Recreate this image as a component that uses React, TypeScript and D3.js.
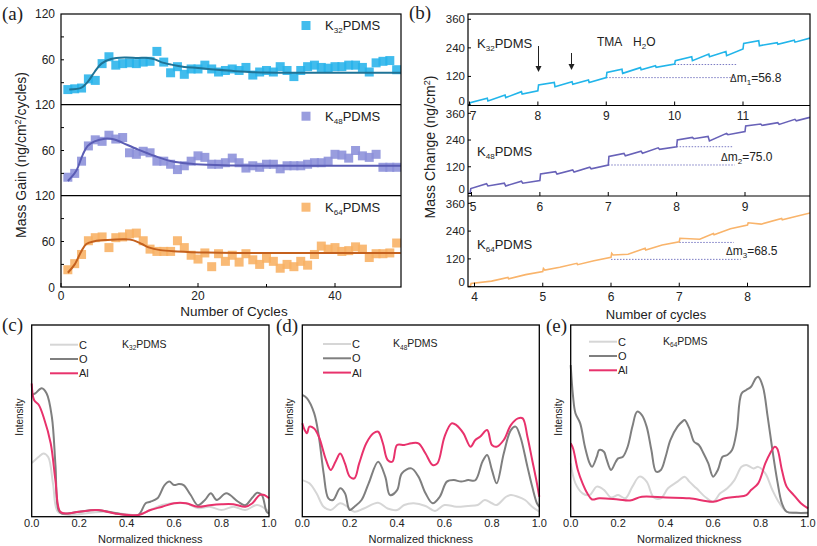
import React from 'react';
import * as d3 from 'd3';

const SANS = '"Liberation Sans", Arial, Helvetica, sans-serif';
const SERIF = '"Liberation Serif", "Times New Roman", serif';

// ---------------- Panel (a) data ----------------
const cycleNumbers = [1,2,3,4,5,6,7,8,9,10,11,12,13,14,15,16,17,18,19,20,21,22,23,24,25,26,27,28,29,30,31,32,33,34,35,36,37,38,39,40,41,42,43,44,45,46,47,48,49];
const gainK32 = [21,22,23,35,33,55,64,53,55,56, 55,57,58,71,57,43,51,41,48,48, 53,48,44,46,48,46,50,40,44,46, 44,51,46,38,46,51,53,50,49,51, 51,53,53,50,44,56,58,59,47];
const gainK48 = [25,30,46,66,74,72,80,75,77,57, 55,59,57,46,46,42,35,40,46,53, 51,42,42,44,50,44,37,40,38,42, 42,36,40,40,40,42,44,44,46,55, 54,50,60,53,51,55,38,38,38];
const gainK64 = [23,31,43,61,65,66,52,65,66,70, 71,61,50,47,47,47,61,52,42,37, 45,27,44,34,42,33,44,36,30,38, 34,25,30,27,34,29,43,54,50,52, 47,48,53,50,39,44,44,45,58];
const fitK32: [number, number][] = [[1.2,21],[3,23.5],[3.9,31],[4.9,44],[5.9,55],[7.3,61],[9.3,63],[11.2,62.5],[12.7,62.5],[13.7,60.5],[14.6,57],[16.1,53.7],[18,50.7],[20,49.3],[22.4,47.2],[24.9,45.5],[28,43.8],[35,43],[49.6,43]];
const fitK48: [number, number][] = [[1,20],[2.2,33],[3.2,55],[3.9,66],[4.9,72],[6.4,75.5],[7.8,74.5],[9,70],[11.2,61.5],[13.7,52.8],[16,46.3],[18.5,43],[21.5,41.3],[26,40.2],[49.6,40]];
const fitK64: [number, number][] = [[1,19],[2,30],[3,47.7],[3.7,56.7],[4.9,60.3],[6.8,62],[9.3,62.8],[10.6,61.5],[11.8,56.7],[12.8,52.3],[14.5,48.7],[17,47],[21.3,45.5],[26,45],[49.6,45]];
const gainTicksX = [0, 20, 40];
const gainMinorX = [10, 30];

// ---------------- Panel (b) data ----------------
const massK32: [number, number][] = [[6.98,0],[7.0,2],[7.01,10],[7.26,28],[7.27,17],[7.52,42],[7.53,31],[7.76,56],[7.77,46],[8.0,60],[8.01,84],[8.24,95],[8.25,77],[8.5,98],[8.51,87],[8.74,105],[8.75,94],[9.0,115],[9.01,137],[9.23,150],[9.24,133],[9.5,157],[9.51,148],[9.72,165],[9.73,158],[10.0,172],[10.01,186],[10.25,203],[10.26,186],[10.5,214],[10.51,203],[10.75,225],[10.76,207],[11.0,235],[11.01,259],[11.23,270],[11.24,249],[11.5,262],[11.51,255],[11.75,272],[11.76,264],[11.98,281]];
const massK48: [number, number][] = [[4.95,0],[4.98,2],[4.99,22],[5.22,44],[5.24,34],[5.48,46],[5.5,34],[5.73,55],[5.75,46],[6.0,58],[6.01,88],[6.23,98],[6.25,87],[6.48,106],[6.5,96],[6.73,118],[6.75,111],[7.0,128],[7.01,166],[7.23,180],[7.25,169],[7.48,190],[7.5,181],[7.73,205],[7.75,198],[8.0,210],[8.01,240],[8.23,252],[8.25,246],[8.46,256],[8.48,236],[8.73,270],[8.75,264],[9.0,278],[9.01,303],[9.23,312],[9.25,306],[9.48,318],[9.5,310],[9.73,333],[9.75,326],[9.95,342]];
const massK64: [number, number][] = [[3.9,0],[3.94,3],[3.95,14],[4.25,24],[4.49,40],[4.5,34],[4.75,52],[5.0,65],[5.01,79],[5.03,72],[5.25,84],[5.5,101],[5.51,95],[5.75,112],[6.0,127],[6.01,144],[6.03,137],[6.25,140],[6.5,166],[6.51,158],[6.75,180],[7.0,194],[7.01,209],[7.3,205],[7.5,230],[7.51,224],[7.75,250],[8.0,266],[8.01,276],[8.2,270],[8.5,295],[8.51,289],[8.75,306],[8.93,319]];
const deltaK32 = [[9.0, 10.88, 115], [10.0, 10.9, 170]];
const deltaK48 = [[7.0, 8.85, 128], [8.0, 8.83, 210]];
const deltaK64 = [[6.0, 7.9, 118], [7.0, 7.8, 191]];
const massTicksY = [0, 120, 240, 360];
const cycleTicksK32 = [7, 8, 9, 10, 11];
const cycleTicksK48 = [5, 6, 7, 8, 9];
const cycleTicksK64 = [4, 5, 6, 7, 8];

// ---------------- Panels (c)-(e) data ----------------
const thickTicks = [0, 0.2, 0.4, 0.6, 0.8, 1.0];
const cK32: [number, number][] = [[0,0.28],[0.03,0.313],[0.05,0.33],[0.07,0.31],[0.09,0.17],[0.11,0.026],[0.15,0.01],[0.3,0.026],[0.45,0.01],[0.5,0.035],[0.55,0.061],[0.6,0.07],[0.65,0.07],[0.7,0.045],[0.75,0.052],[0.8,0.035],[0.85,0.052],[0.9,0.035],[0.95,0.061],[1.0,0.026]];
const oK32: [number, number][] = [[0,0.635],[0.015,0.643],[0.042,0.67],[0.063,0.643],[0.085,0.52],[0.1,0.27],[0.113,0.035],[0.127,0.017],[0.2,0.026],[0.27,0.035],[0.4,0.009],[0.45,0.009],[0.48,0.07],[0.5,0.078],[0.53,0.096],[0.56,0.165],[0.58,0.183],[0.6,0.165],[0.62,0.17],[0.64,0.165],[0.67,0.113],[0.7,0.06],[0.73,0.087],[0.755,0.122],[0.78,0.087],[0.82,0.122],[0.87,0.078],[0.9,0.06],[0.93,0.1],[0.95,0.125],[0.97,0.113],[0.99,0.026],[1.0,0.017]];
const alK32: [number, number][] = [[0,0.695],[0.01,0.609],[0.03,0.583],[0.05,0.52],[0.08,0.383],[0.1,0.19],[0.12,0.026],[0.15,0.017],[0.2,0.026],[0.28,0.035],[0.35,0.017],[0.45,0.009],[0.5,0.035],[0.55,0.052],[0.6,0.07],[0.65,0.07],[0.7,0.052],[0.75,0.06],[0.8,0.065],[0.85,0.065],[0.9,0.052],[0.93,0.07],[0.96,0.113],[0.98,0.113],[1.0,0.096]];

const cK48: [number, number][] = [[0,0.191],[0.03,0.174],[0.06,0.122],[0.09,0.052],[0.12,0.035],[0.16,0.07],[0.19,0.052],[0.22,0.026],[0.26,0.043],[0.32,0.073],[0.36,0.043],[0.4,0.035],[0.43,0.061],[0.47,0.07],[0.52,0.056],[0.56,0.03],[0.6,0.061],[0.65,0.052],[0.7,0.056],[0.74,0.061],[0.77,0.087],[0.8,0.07],[0.82,0.061],[0.86,0.104],[0.88,0.113],[0.91,0.104],[0.94,0.087],[0.97,0.052],[1.0,0.026]];
const oK48: [number, number][] = [[0,0.635],[0.02,0.617],[0.05,0.54],[0.07,0.417],[0.09,0.226],[0.11,0.096],[0.13,0.087],[0.16,0.148],[0.18,0.122],[0.2,0.035],[0.22,0.052],[0.25,0.087],[0.28,0.174],[0.32,0.287],[0.35,0.209],[0.37,0.113],[0.4,0.139],[0.42,0.226],[0.46,0.252],[0.49,0.209],[0.52,0.122],[0.55,0.07],[0.58,0.104],[0.61,0.183],[0.64,0.191],[0.67,0.183],[0.7,0.191],[0.73,0.19],[0.76,0.287],[0.78,0.322],[0.8,0.244],[0.82,0.174],[0.85,0.33],[0.88,0.452],[0.9,0.47],[0.92,0.417],[0.95,0.26],[0.97,0.157],[0.99,0.07],[1.0,0.052]];
const alK48: [number, number][] = [[0,0.487],[0.01,0.452],[0.02,0.435],[0.03,0.47],[0.05,0.46],[0.07,0.417],[0.1,0.296],[0.12,0.244],[0.14,0.287],[0.16,0.33],[0.18,0.278],[0.2,0.209],[0.22,0.2],[0.24,0.278],[0.27,0.383],[0.3,0.435],[0.32,0.443],[0.34,0.383],[0.36,0.296],[0.38,0.287],[0.4,0.374],[0.43,0.374],[0.46,0.383],[0.49,0.383],[0.52,0.33],[0.55,0.27],[0.57,0.278],[0.6,0.417],[0.63,0.487],[0.65,0.478],[0.68,0.435],[0.71,0.365],[0.73,0.4],[0.75,0.417],[0.78,0.452],[0.8,0.374],[0.82,0.365],[0.85,0.4],[0.88,0.478],[0.91,0.513],[0.93,0.513],[0.95,0.417],[0.97,0.296],[0.99,0.174],[1.0,0.104]];

const cK64: [number, number][] = [[0,0.278],[0.02,0.174],[0.05,0.122],[0.08,0.113],[0.11,0.157],[0.14,0.14],[0.17,0.1],[0.2,0.113],[0.23,0.096],[0.26,0.157],[0.29,0.209],[0.32,0.183],[0.35,0.1],[0.38,0.096],[0.41,0.148],[0.45,0.183],[0.48,0.209],[0.5,0.183],[0.53,0.148],[0.57,0.1],[0.6,0.078],[0.63,0.122],[0.66,0.148],[0.69,0.191],[0.72,0.26],[0.74,0.27],[0.77,0.252],[0.79,0.26],[0.82,0.226],[0.85,0.139],[0.88,0.07],[0.91,0.026],[0.95,0.02],[1.0,0.017]];
const oK64: [number, number][] = [[0,0.791],[0.01,0.626],[0.02,0.54],[0.04,0.487],[0.06,0.365],[0.08,0.278],[0.09,0.26],[0.11,0.313],[0.12,0.348],[0.14,0.339],[0.15,0.304],[0.17,0.244],[0.19,0.287],[0.2,0.304],[0.22,0.313],[0.24,0.365],[0.26,0.47],[0.28,0.548],[0.3,0.53],[0.32,0.47],[0.34,0.348],[0.36,0.235],[0.38,0.244],[0.4,0.313],[0.42,0.4],[0.45,0.47],[0.47,0.496],[0.48,0.504],[0.5,0.461],[0.52,0.391],[0.54,0.374],[0.56,0.33],[0.58,0.278],[0.6,0.209],[0.62,0.244],[0.64,0.313],[0.66,0.322],[0.68,0.348],[0.7,0.452],[0.72,0.643],[0.74,0.661],[0.76,0.678],[0.78,0.722],[0.79,0.73],[0.81,0.678],[0.83,0.522],[0.85,0.348],[0.87,0.191],[0.89,0.07],[0.91,0.026],[0.95,0.02],[1.0,0.02]];
const alK64: [number, number][] = [[0,0.383],[0.01,0.356],[0.03,0.244],[0.05,0.174],[0.07,0.122],[0.09,0.09],[0.12,0.096],[0.2,0.09],[0.25,0.085],[0.3,0.104],[0.4,0.1],[0.5,0.096],[0.6,0.078],[0.65,0.096],[0.7,0.104],[0.74,0.113],[0.76,0.139],[0.79,0.174],[0.82,0.278],[0.84,0.33],[0.86,0.365],[0.87,0.356],[0.89,0.244],[0.91,0.157],[0.94,0.113],[0.97,0.07],[1.0,0.043]];

// ---------------- Colors ----------------
const COL_C = '#d6d6d6';
const COL_O = '#7f7f7f';
const COL_AL = '#e8326c';

function KLabel({ x, y, sub, size = 13, anchor = 'start' as any }) {
  return (
    <text x={x} y={y} fontFamily={SANS} fontSize={size} textAnchor={anchor} fill="#222">
      K<tspan fontSize={size * 0.62} dy={size * 0.25}>{sub}</tspan>
      <tspan dy={-size * 0.25}>PDMS</tspan>
    </text>
  );
}

function PanelA() {
  const left = 61, right = 401;
  const rows = [14, 104.7, 195.7, 287];
  const x = d3.scaleLinear().domain([0, 50]).range([61, 403.5]);
  const series = [
    { sub: '32', vals: gainK32, fit: fitK32, fill: '#27b3ea', line: '#1f7396' },
    { sub: '48', vals: gainK48, fit: fitK48, fill: '#8b8fd9', line: '#5a5cb4' },
    { sub: '64', vals: gainK64, fit: fitK64, fill: '#f8b163', line: '#c4601d' },
  ];
  return (
    <g>
      <defs>
        <clipPath id="clipA"><rect x={left} y={rows[0]} width={right - left} height={rows[3] - rows[0]} /></clipPath>
      </defs>
      {series.map((s, i) => {
        const top = rows[i];
        const y = d3.scaleLinear().domain([0, 120]).range([top + 91.6, top]);
        const line = d3.line<[number, number]>().x(d => x(d[0])).y(d => y(d[1])).curve(d3.curveCatmullRom.alpha(0.5));
        const labels = i === 2 ? [0, 60, 120] : [60, 120];
        return (
          <g key={i}>
            <g clipPath="url(#clipA)">
              {s.vals.map((v, j) => (
                <rect key={j} x={x(cycleNumbers[j]) - 4.5} y={y(v) - 4.5} width={9} height={9} fill={s.fill} opacity={0.88} />
              ))}
              <path d={line(s.fit) || ''} fill="none" stroke={s.line} strokeWidth={2} />
            </g>
            {[30, 60, 90].map(t => (
              <line key={t} x1={left} x2={left + 3} y1={y(t)} y2={y(t)} stroke="#000" strokeWidth={1} />
            ))}
            {labels.map(t => (
              <text key={t} x={55} y={Math.min(y(t), rows[3] + 1)} dy="0.35em" textAnchor="end" fontFamily={SANS} fontSize={12} fill="#222">{t}</text>
            ))}
            <rect x={301.5} y={top + 7} width={9} height={9} fill={s.fill} opacity={0.88} />
            <KLabel x={325} y={top + 16} sub={s.sub} size={13} />
          </g>
        );
      })}
      <rect x={left} y={rows[0]} width={right - left} height={rows[3] - rows[0]} fill="none" stroke="#000" strokeWidth={1.2} />
      <line x1={left} x2={right} y1={rows[1]} y2={rows[1]} stroke="#000" strokeWidth={1.2} />
      <line x1={left} x2={right} y1={rows[2]} y2={rows[2]} stroke="#000" strokeWidth={1.2} />
      {gainTicksX.concat(gainMinorX).map(t => (
        <line key={t} x1={x(t)} x2={x(t)} y1={rows[3]} y2={rows[3] - (gainTicksX.includes(t) ? 4 : 3)} stroke="#000" strokeWidth={1} />
      ))}
      {gainTicksX.map(t => (
        <text key={t} x={x(t)} y={299.5} textAnchor="middle" fontFamily={SANS} fontSize={12} fill="#222">{t}</text>
      ))}
      <text x={234} y={315.5} textAnchor="middle" fontFamily={SANS} fontSize={13.5} fill="#222">Number of Cycles</text>
      <text transform="translate(26,155) rotate(-90)" textAnchor="middle" fontFamily={SANS} fontSize={14} fill="#222">
        Mass Gain (ng/cm<tspan fontSize={9} dy={-5}>2</tspan><tspan dy={5}>/cycles)</tspan>
      </text>
    </g>
  );
}

function PanelB() {
  const left = 468, right = 810;
  const rows = [14, 105.5, 196, 286.7];
  const cfg = [
    { sub: '32', data: massK32, delta: deltaK32, ticks: cycleTicksK32, xd: [7, 11], xr: [469.5, 743], yr: [105, 19.3], color: '#22b5ea', tickY: 115.5, labelY: 48, dm: '1', dv: '56.8', dmX: 730, dmY: 82 },
    { sub: '48', data: massK48, delta: deltaK48, ticks: cycleTicksK48, xd: [5, 9], xr: [471.5, 745], yr: [193.5, 113.3], color: '#6862b8', tickY: 206.5, labelY: 156, dm: '2', dv: '75.0', dmX: 721, dmY: 161 },
    { sub: '64', data: massK64, delta: deltaK64, ticks: cycleTicksK64, xd: [4, 8], xr: [474.5, 747.5], yr: [286.7, 203.3], color: '#f9b46b', tickY: 297, labelY: 249, dm: '3', dv: '68.5', dmX: 726, dmY: 255 },
  ];
  return (
    <g>
      {cfg.map((c, i) => {
        const top = rows[i], bottom = rows[i + 1];
        const x = d3.scaleLinear().domain(c.xd).range(c.xr);
        const y = d3.scaleLinear().domain([0, 360]).range(c.yr);
        const line = d3.line<[number, number]>().x(d => x(d[0])).y(d => y(d[1]));
        return (
          <g key={i}>
            <defs>
              <clipPath id={`clipB${i}`}><rect x={left} y={top} width={right - left} height={bottom - top} /></clipPath>
            </defs>
            {c.delta.map((d, j) => (
              <line key={j} x1={x(d[0])} x2={x(d[1])} y1={y(d[2])} y2={y(d[2])} stroke="#7b7bc4" strokeWidth={1} strokeDasharray="1.5,1.5" />
            ))}
            <path d={line(c.data) || ''} fill="none" stroke={c.color} strokeWidth={1.6} clipPath={`url(#clipB${i})`} />
            {massTicksY.map(t => (
              <g key={t}>
                <line x1={left} x2={left + 3} y1={y(t)} y2={y(t)} stroke="#000" />
                <text x={465} y={t === 0 ? y(t) - 4.5 : t === 360 && i > 0 ? y(t) + 1 : y(t)} dy="0.35em" textAnchor="end" fontFamily={SANS} fontSize={11.5} fill="#222">{t}</text>
              </g>
            ))}
            {c.ticks.map(t => (
              <g key={t}>
                <line x1={x(t)} x2={x(t)} y1={bottom} y2={bottom - 4} stroke="#000" />
                <text x={Math.max(x(t), 473)} y={c.tickY} dy="0.35em" textAnchor="middle" fontFamily={SANS} fontSize={12} fill="#222">{t}</text>
              </g>
            ))}
            <KLabel x={477} y={c.labelY} sub={c.sub} size={13} />
            <text x={c.dmX} y={c.dmY} fontFamily={SANS} fontSize={12} fill="#222">
              <tspan fontSize={10}>Δ</tspan>m<tspan fontSize={8} dy={3}>{c.dm}</tspan><tspan dy={-3}>={c.dv}</tspan>
            </text>
          </g>
        );
      })}
      <rect x={left} y={rows[0]} width={right - left} height={rows[3] - rows[0]} fill="none" stroke="#000" strokeWidth={1.2} />
      <line x1={left} x2={right} y1={rows[1]} y2={rows[1]} stroke="#000" strokeWidth={1.2} />
      <line x1={left} x2={right} y1={rows[2]} y2={rows[2]} stroke="#000" strokeWidth={1.2} />
      <text x={597} y={46} fontFamily={SANS} fontSize={12} fill="#222">TMA</text>
      <text x={633} y={46} fontFamily={SANS} fontSize={12} fill="#222">H<tspan fontSize={8} dy={3}>2</tspan><tspan dy={-3}>O</tspan></text>
      <line x1={538.5} x2={538.5} y1={46} y2={68} stroke="#222" strokeWidth={1} />
      <path d="M535.5,66 L538.5,72 L541.5,66 Z" fill="#222" />
      <line x1={571.5} x2={571.5} y1={53} y2={66} stroke="#222" strokeWidth={1} />
      <path d="M568.5,64 L571.5,70 L574.5,64 Z" fill="#222" />
      <text x={656} y={319} textAnchor="middle" fontFamily={SANS} fontSize={13} fill="#222">Number of cycles</text>
      <text transform="translate(435,147) rotate(-90)" textAnchor="middle" fontFamily={SANS} fontSize={14} fill="#222">
        Mass Change (ng/cm<tspan fontSize={9} dy={-5}>2</tspan><tspan dy={5}>)</tspan>
      </text>
    </g>
  );
}

function DepthPanel({ left, right, sub, c, o, al, legendX, titleX, legendY }) {
  const top = 325, bottom = 516.7;
  const x = d3.scaleLinear().domain([0, 1]).range([left, right]);
  const y = d3.scaleLinear().domain([0, 1]).range([bottom, top]);
  const line = d3.line<[number, number]>().x(d => x(d[0])).y(d => y(d[1])).curve(d3.curveCatmullRom.alpha(0.5));
  const leg = [
    { name: 'C', color: COL_C },
    { name: 'O', color: COL_O },
    { name: 'Al', color: COL_AL },
  ];
  return (
    <g>
      <path d={line(c) || ''} fill="none" stroke={COL_C} strokeWidth={2} />
      <path d={line(o) || ''} fill="none" stroke={COL_O} strokeWidth={2} />
      <path d={line(al) || ''} fill="none" stroke={COL_AL} strokeWidth={2} />
      <rect x={left} y={top} width={right - left} height={bottom - top} fill="none" stroke="#000" strokeWidth={1.3} />
      {leg.map((l, i) => (
        <g key={l.name}>
          <line x1={legendX} x2={legendX + 28} y1={legendY + i * 14.3} y2={legendY + i * 14.3} stroke={l.color} strokeWidth={2} />
          <text x={legendX + 29} y={legendY + i * 14.3} dy="0.36em" fontFamily={SANS} fontSize={11} fill="#222">{l.name}</text>
        </g>
      ))}
      <KLabel x={titleX} y={legendY + 3} sub={sub} size={10.5} />
      {thickTicks.map(t => (
        <text key={t} x={x(t)} y={527} textAnchor="middle" fontFamily={SANS} fontSize={11} fill="#222">{t.toFixed(1)}</text>
      ))}
      <text x={(left + right) / 2} y={543} textAnchor="middle" fontFamily={SANS} fontSize={11} fill="#222">Normalized thickness</text>
      <text transform={`translate(${left - 9},417) rotate(-90)`} textAnchor="middle" fontFamily={SANS} fontSize={10} fill="#222">Intensity</text>
    </g>
  );
}

export default function App() {
  return (
    <svg width={817} height={546} viewBox="0 0 817 546" style={{ position: 'absolute', left: 0, top: 0, background: '#fff' }}>
      <rect x={0} y={0} width={817} height={546} fill="#fff" />
      <PanelA />
      <PanelB />
      <DepthPanel left={31.7} right={269} sub="32" c={cK32} o={oK32} al={alK32} legendX={50} titleX={122} legendY={344.7} />
      <DepthPanel left={302.3} right={539.3} sub="48" c={cK48} o={oK48} al={alK48} legendX={323} titleX={393} legendY={344} />
      <DepthPanel left={570.7} right={808} sub="64" c={cK64} o={oK64} al={alK64} legendX={589} titleX={663} legendY={341.7} />
      <text x={2} y={20} fontFamily={SERIF} fontSize={19} fill="#222">(a)</text>
      <text x={409} y={19} fontFamily={SERIF} fontSize={19} fill="#222">(b)</text>
      <text x={2} y={331} fontFamily={SERIF} fontSize={19} fill="#222">(c)</text>
      <text x={276} y={332} fontFamily={SERIF} fontSize={19} fill="#222">(d)</text>
      <text x={546} y={332} fontFamily={SERIF} fontSize={19} fill="#222">(e)</text>
    </svg>
  );
}
